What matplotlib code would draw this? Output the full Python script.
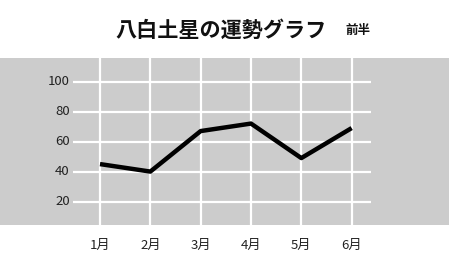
import matplotlib
matplotlib.use("Agg")
import matplotlib.pyplot as plt
import matplotlib.transforms as mtransforms

plt.rcParams['font.family'] = ['Noto Sans CJK JP', 'DejaVu Sans']

months = ['1月', '2月', '3月', '4月', '5月', '6月']
values = [45, 40, 67, 72, 49, 69]
yticks = [20, 40, 60, 80, 100]
title = '八白土星の運勢グラフ'
subtitle = '前半'

W, H = 449, 266
fig = plt.figure(figsize=(W / 100, H / 100), dpi=100)
ax = fig.add_axes([0, (H - 225) / H, 1, (225 - 58) / H])
ax.set_facecolor('#cccccc')
for s in ax.spines.values():
    s.set_visible(False)

x = list(range(len(months)))
step = 50.33
ax.set_xlim(-100 / step, (W - 100) / step)
ax.set_ylim(4.4, 115.7)

ax.hlines(yticks, -0.54, len(months) - 1 + 0.39, colors='white', linewidth=1.6, zorder=1)
for xi in x:
    ax.axvline(xi, color='white', linewidth=1.6, zorder=1)

ax.plot(x, values, color='black', linewidth=3.2, solid_capstyle='butt', zorder=3)

ax.set_xticks([])
ax.set_yticks([])

for t in yticks:
    ax.text(-0.6, t, str(t), ha='right', va='center', fontsize=9.5, color='#222222')

trans = mtransforms.blended_transform_factory(ax.transData, fig.transFigure)
for xi, m in zip(x, months):
    ax.text(xi, 1 - 245 / H, m, ha='center', va='center', fontsize=9.5,
            color='#222222', transform=trans, clip_on=False)

fig.text(221 / W, 1 - 30 / H, title, ha='center', va='center', fontsize=15.2,
         fontweight='bold', color='#111111')
fig.text(357.5 / W, 1 - 30 / H, subtitle, ha='center', va='center', fontsize=9,
         fontweight='bold', color='#111111')

fig.savefig('out.png', dpi=100)
